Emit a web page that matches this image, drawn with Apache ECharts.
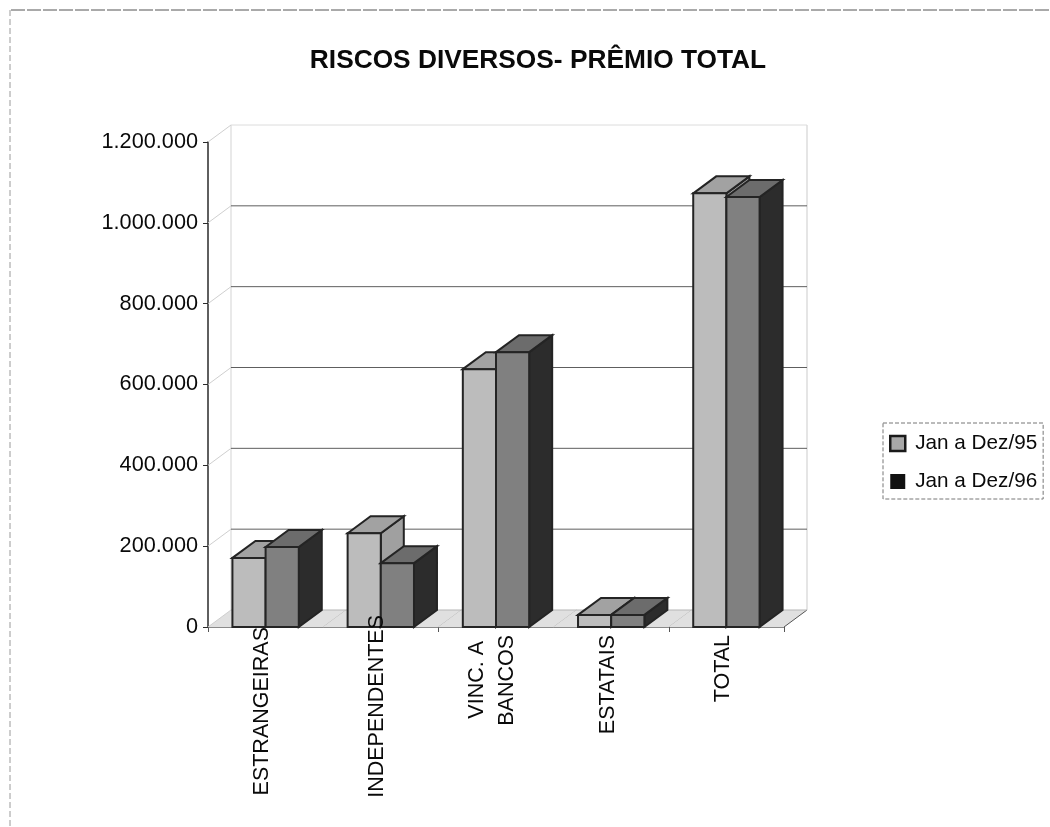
<!DOCTYPE html>
<html>
<head>
<meta charset="utf-8">
<title>Riscos Diversos</title>
<script src="https://cdn.jsdelivr.net/npm/echarts@6/dist/echarts.min.js"></script>
<style>html,body{margin:0;padding:0;background:#fff}#chart{width:1050px;height:827px}</style>
</head>
<body>
<div id="chart"></div>
<script>
const chartTitle = 'RISCOS DIVERSOS- PRÊMIO TOTAL';
const categories = ['ESTRANGEIRAS', 'INDEPENDENTES', 'VINC. A\nBANCOS', 'ESTATAIS', 'TOTAL'];
const seriesNames = ['Jan a Dez/95', 'Jan a Dez/96'];
const premio95 = [171000, 232000, 638000, 30000, 1073000];
const premio96 = [198000, 158000, 680000, 30000, 1064000];
const yTicks = [0, 200000, 400000, 600000, 800000, 1000000, 1200000];

// Pixel depth of the oblique projection used for the bars and the walls.
const DEPTH_X = 23;
const DEPTH_Y = 17;

// Extra gap between a rotated category label and the axis.
const labelGap = [12, 0, 20, 20, 20];

const palettes = [
  { front: '#bcbcbc', top: '#a2a2a2', side: '#a0a0a0' },
  { front: '#808080', top: '#6c6c6c', side: '#2c2c2c' }
];

const poly = (points, fill, stroke, width) => ({
  type: 'polygon',
  shape: { points },
  style: { fill, stroke, lineWidth: width }
});
const line = (a, b, stroke, width) => ({
  type: 'line',
  shape: { x1: a[0], y1: a[1], x2: b[0], y2: b[1] },
  style: { stroke, lineWidth: width, fill: null }
});

// One cuboid per value: front face, top face, right side.
function renderBox(seriesIdx) {
  return function (params, api) {
    const base = api.coord([api.value(0), 0]);
    const head = api.coord([api.value(0), api.value(1)]);
    const band = api.size([1, 0])[0];
    const w = band * 0.288;
    const x0 = base[0] - w + seriesIdx * w;
    const x1 = x0 + w;
    const yB = base[1];
    const yT = head[1];
    const c = palettes[seriesIdx];
    const edge = '#242424';
    return {
      type: 'group',
      children: [
        poly([[x1, yB], [x1 + DEPTH_X, yB - DEPTH_Y], [x1 + DEPTH_X, yT - DEPTH_Y], [x1, yT]], c.side, edge, 2),
        poly([[x0, yT], [x0 + DEPTH_X, yT - DEPTH_Y], [x1 + DEPTH_X, yT - DEPTH_Y], [x1, yT]], c.top, edge, 2),
        poly([[x0, yB], [x1, yB], [x1, yT], [x0, yT]], c.front, edge, 2)
      ]
    };
  };
}

// Back-wall gridline and left-wall diagonal for one tick of the value axis.
function renderWall(params, api) {
  const v = api.value(1);
  const p = api.coord([0, v]);
  const band = api.size([1, 0])[0];
  const left = p[0] - band / 2;
  const right = left + band * categories.length;
  const backY = p[1] - DEPTH_Y;
  const isTop = v === yTicks[yTicks.length - 1];
  const isBase = v === 0;
  const gridColor = isTop ? '#dcdcdc' : (isBase ? '#b5b5b5' : '#5e5e5e');
  return {
    type: 'group',
    children: [
      line([left, p[1]], [left + DEPTH_X, backY], '#cfcfcf', 1),
      line([left + DEPTH_X, backY], [right + DEPTH_X, backY], gridColor, 1)
    ]
  };
}

// Floor band with the diagonals at every category boundary, plus the faint wall edges.
function renderFloor(params, api) {
  const i = api.value(0);
  const p = api.coord([i, 0]);
  const top = api.coord([i, yTicks[yTicks.length - 1]]);
  const band = api.size([1, 0])[0];
  const xl = p[0] - band / 2;
  const xr = p[0] + band / 2;
  const y = p[1];
  const children = [
    poly([[xl, y], [xl + DEPTH_X, y - DEPTH_Y], [xr + DEPTH_X, y - DEPTH_Y], [xr, y]], '#e0e0e0', null, 0),
    line([xr, y], [xr + DEPTH_X, y - DEPTH_Y], i === categories.length - 1 ? '#555555' : '#bbbbbb', 1)
  ];
  if (i === 0) {
    children.push(line([xl + DEPTH_X, y - DEPTH_Y], [xl + DEPTH_X, top[1] - DEPTH_Y], '#e2e2e2', 1.5));
  }
  if (i === categories.length - 1) {
    children.push(line([xr + DEPTH_X, y - DEPTH_Y], [xr + DEPTH_X, top[1] - DEPTH_Y], '#dddddd', 1.5));
  }
  return { type: 'group', children };
}

const FONT = '"Liberation Sans", Arial, sans-serif';

const chart = echarts.init(document.getElementById('chart'), null, { renderer: 'canvas' });
chart.setOption({
  animation: false,
  backgroundColor: '#ffffff',
  title: {
    text: chartTitle,
    left: 533,
    top: 43,
    textAlign: 'center',
    textStyle: { fontFamily: FONT, fontSize: 26.3, fontWeight: 'bold', color: '#0a0a0a' }
  },
  legend: {
    orient: 'vertical',
    left: 883,
    top: 423,
    padding: [10, 6, 7, 6],
    itemGap: 17,
    itemWidth: 15,
    itemHeight: 15,
    borderColor: '#777777',
    borderWidth: 1,
    borderType: 'dashed',
    textStyle: { fontFamily: FONT, fontSize: 20.7, color: '#0a0a0a', padding: [0, 0, 0, 5] },
    data: [
      { name: seriesNames[0], icon: 'rect', itemStyle: { color: '#a8a8a8', borderColor: '#1a1a1a', borderWidth: 2.5 } },
      { name: seriesNames[1], icon: 'rect', itemStyle: { color: '#111111' } }
    ]
  },
  // The second grid only carries the category labels, which sit slightly left of the band centres.
  grid: [
    { left: 208, top: 142, width: 576, height: 485 },
    { left: 204.5, top: 142, width: 576, height: 485 }
  ],
  xAxis: [
    {
      type: 'category',
      gridIndex: 0,
      data: categories,
      axisLine: { show: true, lineStyle: { color: '#8a8a8a', width: 1 } },
      axisTick: { show: true, length: 5, alignWithLabel: false, lineStyle: { color: '#555555' } },
      splitLine: { show: false },
      axisLabel: { show: false }
    },
    {
      type: 'category',
      gridIndex: 1,
      z: 10,
      data: categories.map((value, i) => ({
        value,
        textStyle: { padding: [0, labelGap[i], 0, 0] }
      })),
      axisLine: { show: false },
      axisTick: { show: false },
      splitLine: { show: false },
      axisLabel: {
        interval: 0,
        rotate: 90,
        margin: -12,
        hideOverlap: false,
        fontFamily: FONT,
        fontSize: 21.5,
        color: '#0a0a0a',
        lineHeight: 30,
        // Centres the shorter first line of the two-line label against the second.
        formatter: value => value.replace('\n', '\u00A0\n')
      }
    }
  ],
  yAxis: [
    {
      type: 'value',
      gridIndex: 0,
      min: 0,
      max: 1200000,
      interval: 200000,
      axisLine: { show: true, lineStyle: { color: '#2a2a2a', width: 1.5 } },
      axisTick: { show: true, length: 5, lineStyle: { color: '#2a2a2a' } },
      splitLine: { show: false },
      axisLabel: {
        margin: 10,
        fontFamily: FONT,
        fontSize: 21.7,
        color: '#0a0a0a',
        formatter: v => String(v).replace(/\B(?=(\d{3})+$)/g, '.')
      }
    },
    {
      type: 'value',
      gridIndex: 1,
      min: 0,
      max: 1200000,
      interval: 200000,
      show: false
    }
  ],
  series: [
    {
      name: 'floor', type: 'custom', z: 1, silent: true, renderItem: renderFloor,
      encode: { x: 0, y: 1 }, data: categories.map((c, i) => [i, 0])
    },
    {
      name: 'walls', type: 'custom', z: 1, silent: true, renderItem: renderWall,
      encode: { x: 0, y: 1 }, data: yTicks.map(v => [0, v])
    },
    {
      name: seriesNames[0], type: 'custom', z: 3, renderItem: renderBox(0),
      encode: { x: 0, y: 1 }, data: premio95.map((v, i) => [i, v])
    },
    {
      name: seriesNames[1], type: 'custom', z: 3, renderItem: renderBox(1),
      encode: { x: 0, y: 1 }, data: premio96.map((v, i) => [i, v])
    }
  ],
  graphic: [
    { type: 'line', silent: true, shape: { x1: 11, y1: 10, x2: 1050, y2: 10 }, style: { stroke: '#555555', lineWidth: 1, lineDash: [14, 2] } },
    { type: 'line', silent: true, shape: { x1: 10, y1: 10, x2: 10, y2: 827 }, style: { stroke: '#9a9a9a', lineWidth: 1, lineDash: [6, 3] } }
  ]
});
</script>
</body>
</html>
